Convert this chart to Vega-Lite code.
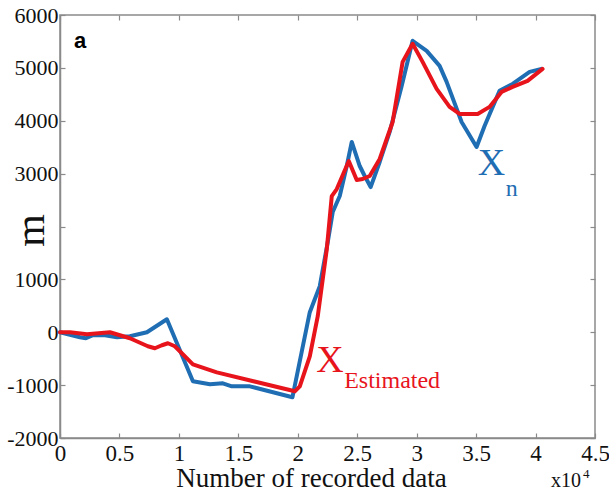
{
  "$schema": "https://vega.github.io/schema/vega-lite/v6.json",
  "autosize": "none",
  "width": 535,
  "height": 423,
  "padding": {"left": 60, "top": 15, "right": 14, "bottom": 54},
  "background": "white",
  "config": {
    "view": {"stroke": "#8a8a8a", "strokeWidth": 1.5},
    "axis": {
      "labelFont": "Liberation Serif",
      "titleFont": "Liberation Serif",
      "labelColor": "#111",
      "titleColor": "#111",
      "domainColor": "#8a8a8a",
      "domainWidth": 1.5,
      "tickColor": "#8a8a8a",
      "tickWidth": 1.2,
      "grid": false
    }
  },
  "datasets": {
    "xn": [
      {"x": 0, "y": 0}, {"x": 0.168, "y": -95}, {"x": 0.218, "y": -114}, {"x": 0.277, "y": -57},
      {"x": 0.378, "y": -57}, {"x": 0.479, "y": -95}, {"x": 0.588, "y": -76}, {"x": 0.731, "y": 0},
      {"x": 0.899, "y": 246}, {"x": 1.118, "y": -928}, {"x": 1.261, "y": -985}, {"x": 1.37, "y": -966},
      {"x": 1.445, "y": -1023}, {"x": 1.597, "y": -1023}, {"x": 1.955, "y": -1230}, {"x": 2.101, "y": 379},
      {"x": 2.185, "y": 871}, {"x": 2.252, "y": 1705}, {"x": 2.294, "y": 2273}, {"x": 2.353, "y": 2576},
      {"x": 2.412, "y": 3144}, {"x": 2.454, "y": 3599}, {"x": 2.521, "y": 3144}, {"x": 2.563, "y": 2955},
      {"x": 2.613, "y": 2746}, {"x": 2.689, "y": 3220}, {"x": 2.773, "y": 3788}, {"x": 2.874, "y": 4659},
      {"x": 2.966, "y": 5512}, {"x": 3.084, "y": 5322}, {"x": 3.193, "y": 5038}, {"x": 3.252, "y": 4735},
      {"x": 3.378, "y": 3977}, {"x": 3.504, "y": 3504}, {"x": 3.571, "y": 3902}, {"x": 3.697, "y": 4565},
      {"x": 3.807, "y": 4697}, {"x": 3.95, "y": 4924}, {"x": 4.05, "y": 4981}
    ],
    "est": [
      {"x": 0, "y": 0}, {"x": 0.084, "y": 0}, {"x": 0.227, "y": -38}, {"x": 0.42, "y": 0},
      {"x": 0.588, "y": -114}, {"x": 0.739, "y": -265}, {"x": 0.798, "y": -303}, {"x": 0.857, "y": -246},
      {"x": 0.908, "y": -208}, {"x": 0.966, "y": -265}, {"x": 1.118, "y": -606}, {"x": 1.319, "y": -758},
      {"x": 1.975, "y": -1117}, {"x": 2.017, "y": -1023}, {"x": 2.101, "y": -455}, {"x": 2.168, "y": 303},
      {"x": 2.244, "y": 1572}, {"x": 2.286, "y": 2576}, {"x": 2.328, "y": 2708}, {"x": 2.429, "y": 3239},
      {"x": 2.496, "y": 2879}, {"x": 2.546, "y": 2898}, {"x": 2.605, "y": 2955}, {"x": 2.689, "y": 3277},
      {"x": 2.798, "y": 3977}, {"x": 2.882, "y": 5114}, {"x": 2.966, "y": 5455}, {"x": 3.05, "y": 5114},
      {"x": 3.168, "y": 4602}, {"x": 3.277, "y": 4262}, {"x": 3.361, "y": 4129}, {"x": 3.513, "y": 4129},
      {"x": 3.613, "y": 4262}, {"x": 3.714, "y": 4546}, {"x": 3.807, "y": 4640}, {"x": 3.933, "y": 4754},
      {"x": 4.059, "y": 4981}
    ],
    "bigtext": [
      {"x": 3.63, "y": 3182, "t": "X", "c": "#1f6db3"},
      {"x": 2.27, "y": -549, "t": "X", "c": "#e8141c"}
    ],
    "subn": [{"x": 3.80, "y": 2708, "t": "n"}],
    "subest": [{"x": 2.39, "y": -928, "t": "Estimated"}],
    "panel": [{"x": 0.17, "y": 5512, "t": "a"}],
    "mult": [{"x": 4.13, "y": -2822, "t": "x10"}],
    "multexp": [{"x": 4.40, "y": -2690, "t": "4"}]
  },
  "resolve": {"axis": {"x": "independent", "y": "independent"}},
  "layer": [
    {
      "data": {"name": "xn"},
      "mark": {"type": "line", "color": "#1f6db3", "strokeWidth": 4, "strokeJoin": "round", "strokeCap": "round"},
      "encoding": {
        "x": {
          "field": "x", "type": "quantitative",
          "scale": {"domain": [0, 4.5], "nice": false, "zero": false},
          "axis": {"values": [0, 0.5, 1, 1.5, 2, 2.5, 3, 3.5, 4, 4.5], "format": "~g", "title": "Number of recorded data",
                   "labelFontSize": 23, "titleFontSize": 27, "titleFontWeight": "normal",
                   "titleX": 251, "titleY": 40, "titleAlign": "center", "titleBaseline": "middle",
                   "tickSize": -5, "labelPadding": 9, "labelFlush": false}
        },
        "y": {
          "field": "y", "type": "quantitative",
          "scale": {"domain": [-2000, 6000], "nice": false, "zero": false},
          "axis": {"values": [-2000, -1000, 0, 1000, 2000, 3000, 4000, 5000, 6000], "title": "m",
                   "labelExpr": "datum.value == 2000 ? '' : datum.value",
                   "labelFontSize": 22, "titleFontSize": 42, "titleFontWeight": "normal",
                   "titleX": -30, "titleY": 215, "titleAngle": -90, "titleAlign": "center", "titleBaseline": "middle",
                   "tickSize": -5, "labelPadding": 7, "labelFlush": false}
        }
      }
    },
    {
      "data": {"name": "est"},
      "mark": {"type": "line", "color": "#e8141c", "strokeWidth": 4, "strokeJoin": "round", "strokeCap": "round"},
      "encoding": {
        "x": {"field": "x", "type": "quantitative", "axis": null},
        "y": {"field": "y", "type": "quantitative", "axis": null}
      }
    },
    {
      "data": {"name": "bigtext"},
      "mark": {"type": "text", "font": "Liberation Serif", "fontSize": 38, "align": "center", "baseline": "middle"},
      "encoding": {
        "x": {"field": "x", "type": "quantitative", "axis": null},
        "y": {"field": "y", "type": "quantitative", "axis": null},
        "text": {"field": "t"},
        "color": {"field": "c", "type": "nominal", "scale": null}
      }
    },
    {
      "data": {"name": "subn"},
      "mark": {"type": "text", "font": "Liberation Serif", "fontSize": 24, "align": "center", "baseline": "middle", "color": "#1f6db3"},
      "encoding": {
        "x": {"field": "x", "type": "quantitative", "axis": null},
        "y": {"field": "y", "type": "quantitative", "axis": null},
        "text": {"field": "t"}
      }
    },
    {
      "data": {"name": "subest"},
      "mark": {"type": "text", "font": "Liberation Serif", "fontSize": 24, "align": "left", "baseline": "middle", "color": "#e8141c"},
      "encoding": {
        "x": {"field": "x", "type": "quantitative", "axis": null},
        "y": {"field": "y", "type": "quantitative", "axis": null},
        "text": {"field": "t"}
      }
    },
    {
      "data": {"name": "panel"},
      "mark": {"type": "text", "font": "Liberation Sans", "fontWeight": "bold", "fontSize": 22, "align": "center", "baseline": "middle", "color": "#000"},
      "encoding": {
        "x": {"field": "x", "type": "quantitative", "axis": null},
        "y": {"field": "y", "type": "quantitative", "axis": null},
        "text": {"field": "t"}
      }
    },
    {
      "data": {"name": "mult"},
      "mark": {"type": "text", "font": "Liberation Serif", "fontSize": 20, "align": "left", "baseline": "middle", "color": "#111", "clip": false},
      "encoding": {
        "x": {"field": "x", "type": "quantitative", "axis": null},
        "y": {"field": "y", "type": "quantitative", "axis": null},
        "text": {"field": "t"}
      }
    },
    {
      "data": {"name": "multexp"},
      "mark": {"type": "text", "font": "Liberation Serif", "fontSize": 13, "align": "left", "baseline": "middle", "color": "#111", "clip": false},
      "encoding": {
        "x": {"field": "x", "type": "quantitative",
              "axis": {"orient": "top", "values": [0, 0.5, 1, 1.5, 2, 2.5, 3, 3.5, 4, 4.5], "labels": false, "title": null, "domain": false, "tickSize": -5}},
        "y": {"field": "y", "type": "quantitative",
              "axis": {"orient": "right", "values": [-2000, -1000, 0, 1000, 2000, 3000, 4000, 5000, 6000], "labels": false, "title": null, "domain": false, "tickSize": -5}},
        "text": {"field": "t"}
      }
    }
  ]
}
